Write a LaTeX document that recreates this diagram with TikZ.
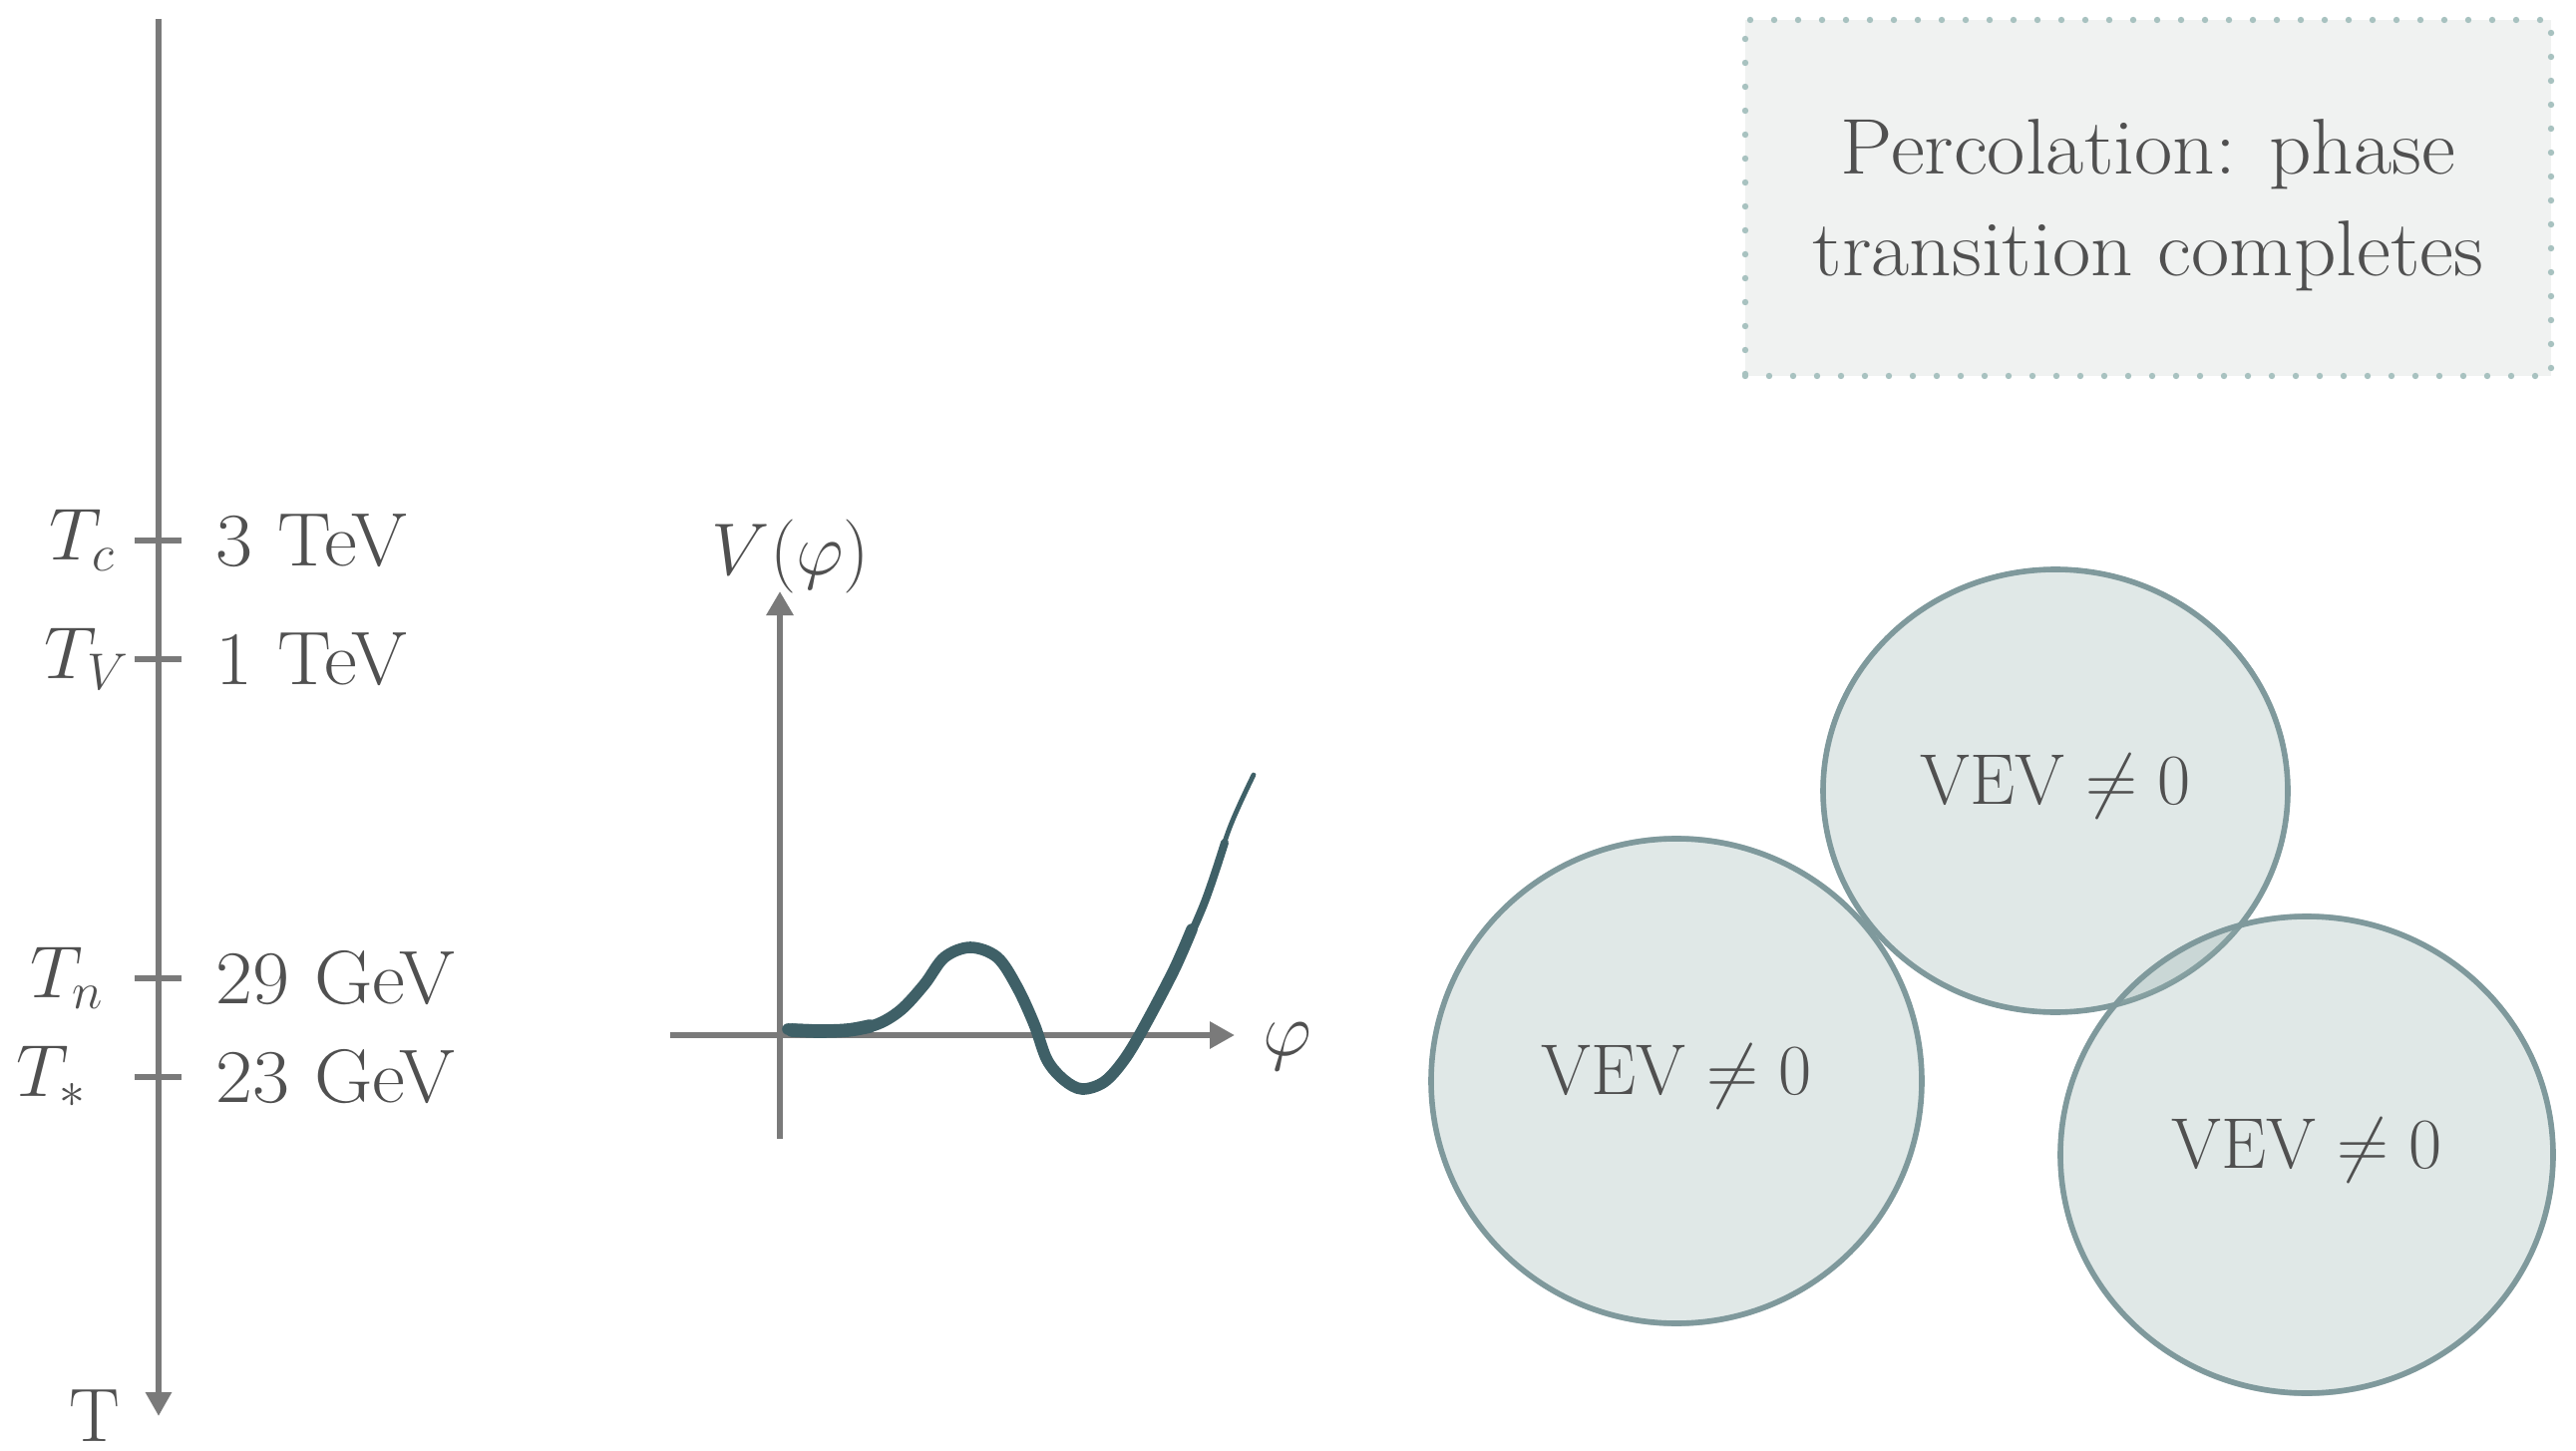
\RequirePackage{fix-cm}
\documentclass[tikz,border=0pt]{standalone}
\usepackage{graphicx}
\usetikzlibrary{arrows.meta,shapes.geometric}
\definecolor{axisgray}{HTML}{7A7A7A}
\definecolor{txtgray}{HTML}{505050}
\definecolor{curveteal}{HTML}{3F6067}
\definecolor{bubfill}{RGB}{151,178,175}
\definecolor{bubedge}{HTML}{7F999C}
\definecolor{boxfill}{HTML}{F0F2F1}
\definecolor{boxdot}{HTML}{A8C2C0}
\newcommand{\wide}[1]{\scalebox{1.06}[1]{#1}}
\begin{document}
\begin{tikzpicture}[x=0.25pt,y=-0.25pt,
  lbl/.style={text=txtgray,inner sep=0pt,font=\fontsize{18.5}{22}\selectfont},
  vlbl/.style={text=txtgray,inner sep=0pt,font=\fontsize{19}{23}\selectfont},
  biglbl/.style={text=txtgray,inner sep=0pt,font=\fontsize{19}{23}\selectfont},
  axisline/.style={draw=axisgray,line width=1.5pt},
  tiptri/.style={-{Triangle[width=6.25pt,length=6pt]}},
  curvestroke/.style={draw=curveteal,line cap=round,line join=round},
  bubble/.style={ellipse,draw=bubedge,line width=1.4pt,fill=bubfill,fill opacity=0.3,
     draw opacity=1,text opacity=1,text=txtgray,inner sep=0pt,
     font=\fontsize{18}{22}\selectfont,text height=0.683em,text depth=0pt},
  brush/.style={draw=bubedge,line width=0.45pt,opacity=0.55},
  percbox/.style={draw=boxdot,fill=boxfill,line width=1.6pt,dash pattern=on 0pt off 6pt,
     line cap=round,minimum width=202pt,minimum height=89.25pt,inner sep=0pt},
  boxtxt/.style={text=txtgray,inner sep=0pt,align=center,font=\fontsize{19.8}{25.5}\selectfont}
]
\useasboundingbox (0,0) rectangle (2583,1455);

% ---------------- temperature axis ----------------
\coordinate (axtop) at (159,19);
\coordinate (axbot) at (159,1420);
\draw[axisline,tiptri] (axtop) -- (axbot);

\coordinate (tcL) at (135,542);  \coordinate (tcR) at (182,542);
\coordinate (tvL) at (135,661);  \coordinate (tvR) at (182,661);
\coordinate (tnL) at (135,981);  \coordinate (tnR) at (182,981);
\coordinate (tsL) at (135,1080); \coordinate (tsR) at (182,1080);
\draw[axisline] (tcL) -- (tcR);
\draw[axisline] (tvL) -- (tvR);
\draw[axisline] (tnL) -- (tnR);
\draw[axisline] (tsL) -- (tsR);

\node[lbl,anchor=east] (lTc) at (117,542) {$T_c$};
\node[lbl,anchor=east] (lTV) at (131,661) {$T_V$};
\node[lbl,anchor=east] (lTn) at (106,981) {$T_n$};
\node[lbl,anchor=east] (lTs) at (88,1080) {$T_*$};

\node[vlbl,anchor=west] (vTc) at (216,542) {\wide{3 TeV}};
\node[vlbl,anchor=west] (vTV) at (216,661) {\wide{1 TeV}};
\node[vlbl,anchor=west] (vTn) at (216,981) {\wide{29 GeV}};
\node[vlbl,anchor=west] (vTs) at (216,1080) {\wide{23 GeV}};

\node[biglbl] (Tlab) at (95,1420) {T};

% ---------------- potential plot ----------------
\coordinate (vaxbot) at (782,1142);
\coordinate (vaxtop) at (782,593);
\coordinate (haxl) at (672,1038);
\coordinate (haxr) at (1238,1038);
\draw[axisline,-{Triangle[width=6.5pt,length=6pt]}] (vaxbot) -- (vaxtop);
\draw[axisline,-{Triangle[width=6.5pt,length=6.25pt]}] (haxl) -- (haxr);
\node[lbl] (Vlab) at (793,558) {$V(\varphi)$};
\node[biglbl] (philab) at (1291,1050) {$\varphi$};

\draw[curvestroke,line width=1.2pt] plot[smooth,tension=0.55] coordinates {
 (788,1032) (843,1033) (877,1028) (903,1013) (927,987) (947,960) (973,950)
 (1000,960) (1020,990) (1037,1027) (1050,1063) (1067,1083) (1085,1092)
 (1107,1085) (1127,1063) (1147,1030) (1177,973) (1207,907) (1233,830) (1257,777)};
\draw[curvestroke,line width=2pt] plot[smooth,tension=0.55] coordinates {
 (789,1032) (843,1033) (877,1028) (903,1013) (927,987) (947,960) (973,950)
 (1000,960) (1020,990) (1037,1027) (1050,1063) (1067,1083) (1085,1092)
 (1107,1085) (1127,1063) (1147,1030) (1177,973) (1207,907) (1228,845)};
\draw[curvestroke,line width=2.9pt] plot[smooth,tension=0.55] coordinates {
 (790,1032) (843,1033) (877,1028) (903,1013) (927,987) (947,960) (973,950)
 (1000,960) (1020,990) (1037,1027) (1050,1063) (1067,1083) (1085,1092)
 (1107,1085) (1127,1063) (1147,1030) (1177,973) (1195,932)};
\draw[curvestroke,line width=3.4pt] plot[smooth,tension=0.6] coordinates {
 (794,1033) (820,1034) (850,1033) (872,1029)};

% ---------------- percolation box ----------------
\node[percbox] (pbox) at (2154,198.5) {};
\node[boxtxt] (ptext) at (2154,206) {\scalebox{1.05}[1]{Percolation: phase}\\\scalebox{1.05}[1]{transition completes}};

% ---------------- bubbles ----------------
\node[bubble,minimum width=123pt,minimum height=121.5pt] (bubL) at (1681,1084) {$\mathrm{VEV}\neq 0$};
\node[bubble,minimum width=116.5pt,minimum height=111pt] (bubT) at (2061,793) {$\mathrm{VEV}\neq 0$};
\node[bubble,minimum width=123.5pt,minimum height=119.5pt] (bubR) at (2313,1158) {$\mathrm{VEV}\neq 0$};
\draw[brush] (bubL.center) ellipse [x radius=247, y radius=245];
\draw[brush] (bubT.center) ellipse [x radius=234.5, y radius=223.5];
\draw[brush] (bubR.center) ellipse [x radius=248.5, y radius=241];
\end{tikzpicture}
\end{document}
